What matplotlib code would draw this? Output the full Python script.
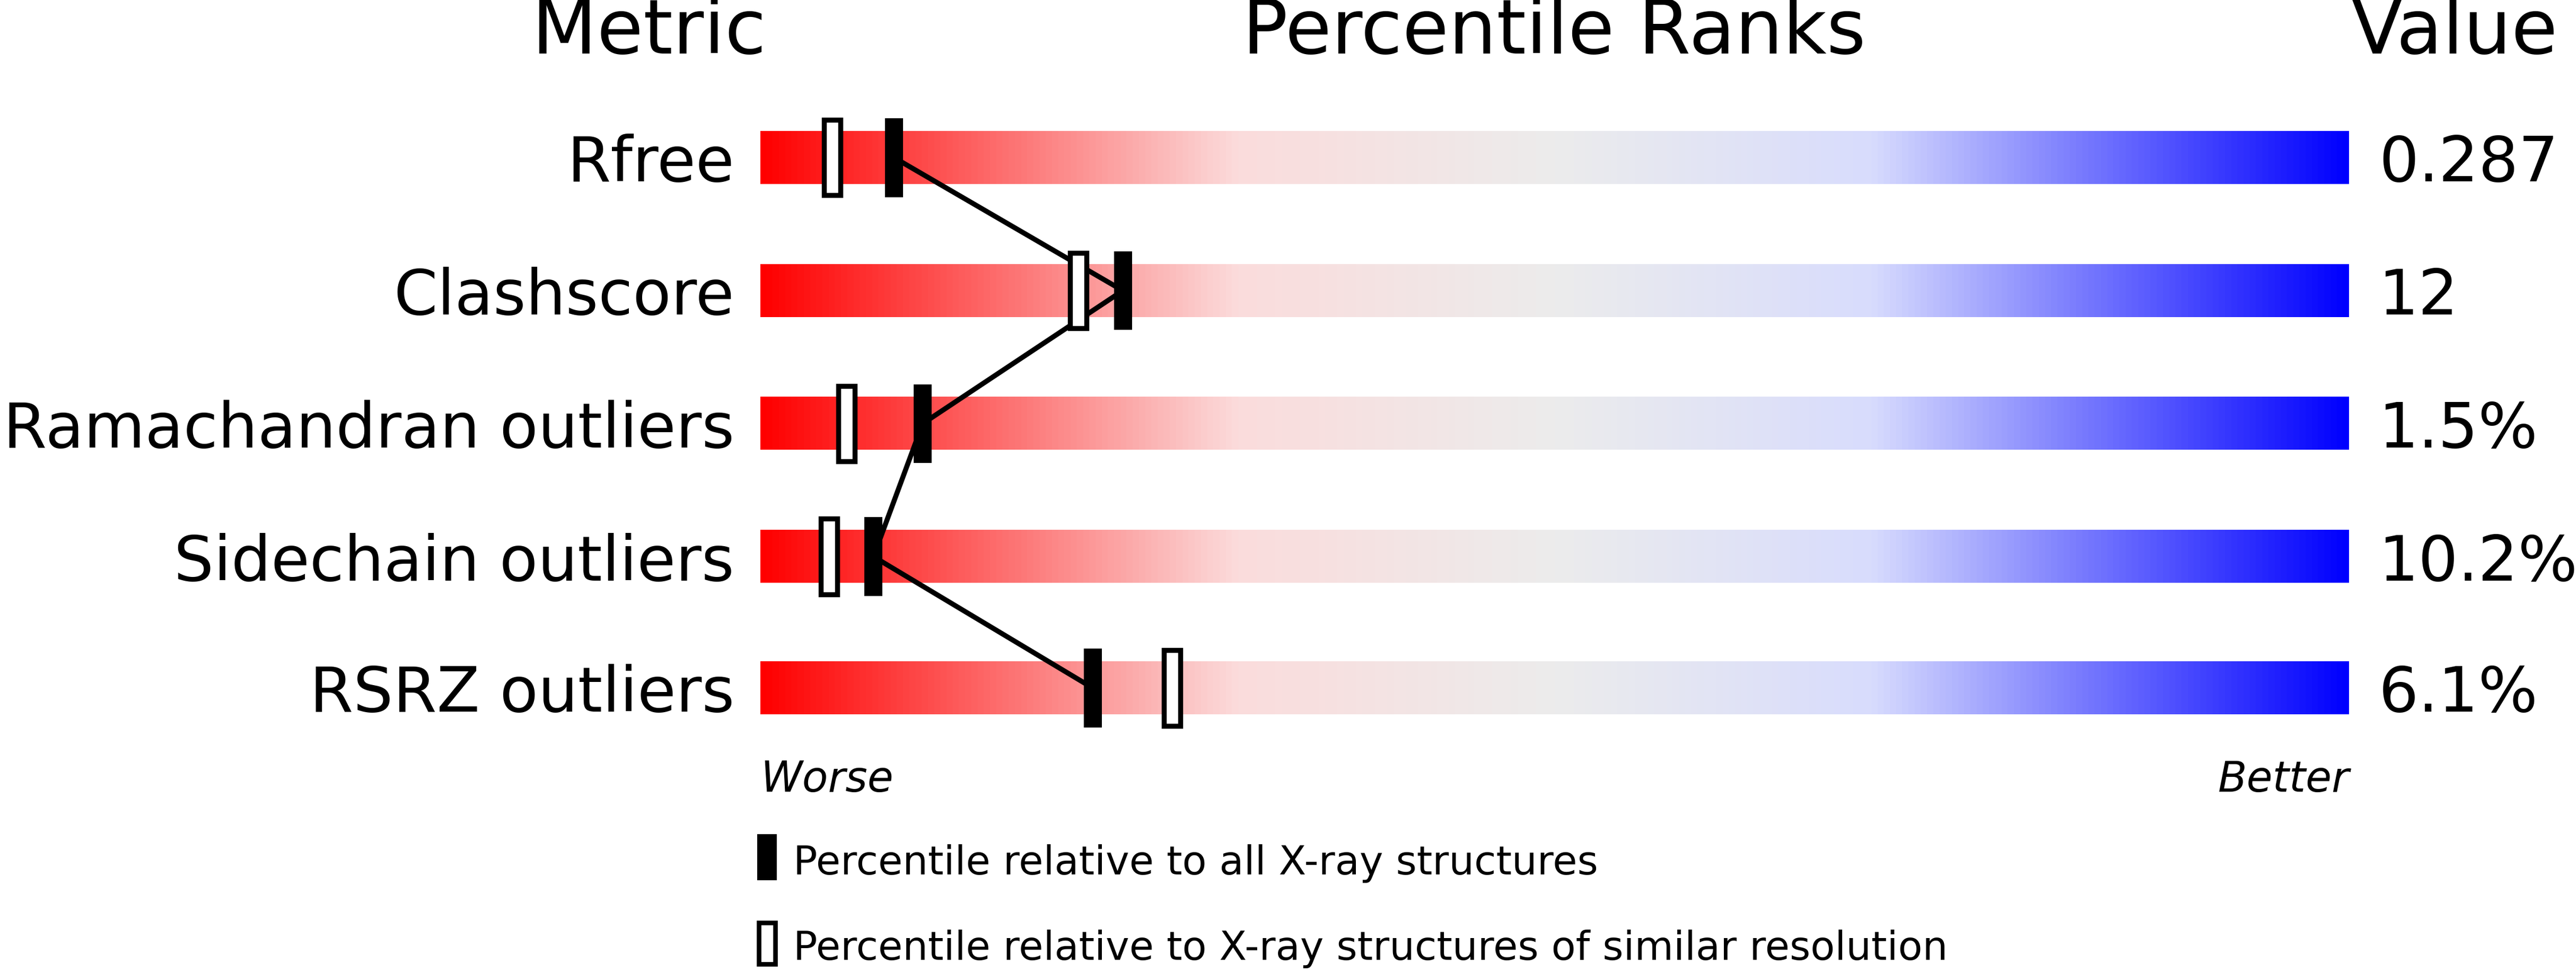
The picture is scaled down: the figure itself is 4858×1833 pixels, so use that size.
import numpy as np
import matplotlib
import matplotlib.pyplot as plt
from matplotlib.colors import LinearSegmentedColormap
from matplotlib.patches import Rectangle

matplotlib.use("Agg")

metrics = ["Rfree", "Clashscore", "Ramachandran outliers", "Sidechain outliers", "RSRZ outliers"]
values = ["0.287", "12", "1.5%", "10.2%", "6.1%"]
pct_all = [8.4, 22.8, 10.2, 7.1, 20.9]
pct_similar = [4.5, 20.0, 5.4, 4.3, 25.9]

W, H = 1568, 592
X0, X1 = 463, 1430
ROW_Y = [96, 177, 258, 339, 419]
BAR_H = 32

cmap = LinearSegmentedColormap.from_list(
    "wwpdb", [(0.0, "#ff0000"), (0.3, "#fbdcdc"), (0.5, "#ececec"),
              (0.7, "#d8dcfd"), (1.0, "#0000ff")])


def px(p):
    return X0 + p / 100.0 * (X1 - X0)


fig = plt.figure(figsize=(4858 / 310, 1833 / 310), dpi=310)
ax = fig.add_axes([0, 0, 1, 1])
ax.set_xlim(0, W)
ax.set_ylim(H, 0)
ax.axis("off")

grad = np.linspace(0, 1, 512).reshape(1, -1)
for y in ROW_Y:
    ax.imshow(grad, cmap=cmap, aspect="auto",
              extent=[X0, X1, y + BAR_H / 2, y - BAR_H / 2], zorder=1)

# connecting line through the filled markers
ax.plot([px(p) for p in pct_all], ROW_Y, color="black", lw=2.2, zorder=2)

for y, pa, ps in zip(ROW_Y, pct_all, pct_similar):
    ax.add_patch(Rectangle((px(ps) - 5, y - 23), 10, 46, facecolor="white",
                           edgecolor="black", lw=2.2, zorder=3))
    ax.add_patch(Rectangle((px(pa) - 5.5, y - 24), 11, 48, facecolor="black",
                           edgecolor="black", lw=0, zorder=4))

for y, m, v in zip(ROW_Y, metrics, values):
    ax.text(447, y + 4, m, ha="right", va="center", fontsize=27.5)
    ax.text(1448, y + 4, v, ha="left", va="center", fontsize=27.5)

ax.text(395, 20, "Metric", ha="center", va="center", fontsize=33)
ax.text(946, 20, "Percentile Ranks", ha="center", va="center", fontsize=33)
ax.text(1494, 20, "Value", ha="center", va="center", fontsize=33)

ax.text(X0, 475, "Worse", ha="left", va="center", fontsize=18.5, style="italic")
ax.text(X1, 475, "Better", ha="right", va="center", fontsize=18.5, style="italic")

ax.add_patch(Rectangle((461, 508), 12, 28, facecolor="black", lw=0))
ax.text(483, 526, "Percentile relative to all X-ray structures",
        ha="left", va="center", fontsize=17.5)
ax.add_patch(Rectangle((462, 562), 10, 25, facecolor="white", edgecolor="black", lw=2))
ax.text(483, 578, "Percentile relative to X-ray structures of similar resolution",
        ha="left", va="center", fontsize=17.5)

fig.savefig("out.png", dpi=310)
